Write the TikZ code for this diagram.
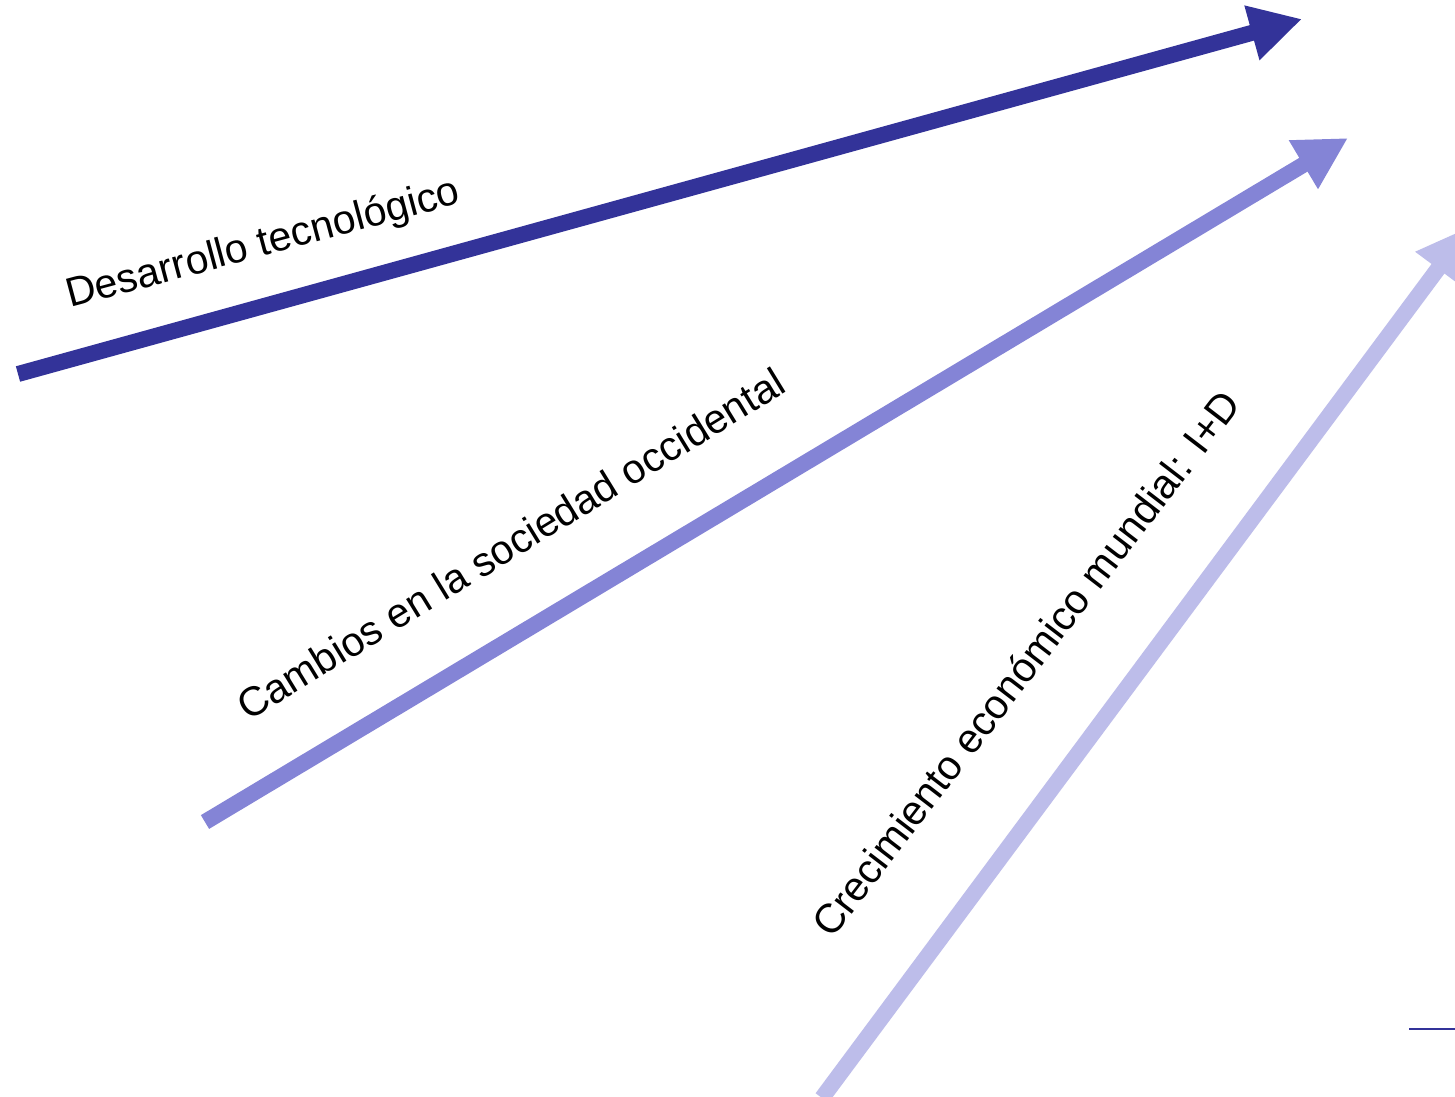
\documentclass[tikz,border=0pt]{standalone}
\usepackage{fontspec}
\setmainfont{Liberation Sans}
\usetikzlibrary{arrows.meta}
\definecolor{cdark}{RGB}{51,51,153}
\definecolor{cmid}{RGB}{132,132,214}
\definecolor{clight}{RGB}{189,189,234}
\tikzset{
  bigarrow/.style={line width=16pt, -{Triangle[length=52pt,width=53pt]}},
  lbl/.style={anchor=base west, inner sep=0pt, font=\fontsize{41pt}{41pt}\selectfont, text=black}
}
\begin{document}
\begin{tikzpicture}[x=1pt,y=-1pt]
\useasboundingbox (0,0) rectangle (1455,1096);
\clip (0,0) rectangle (1455,1096);
\fill[white] (0,0) rectangle (1455,1096);
\coordinate (s1) at (18,374);
\coordinate (t1) at (1302,19);
\coordinate (s2) at (205,822);
\coordinate (t2) at (1348,138);
\coordinate (s3) at (822,1098);
\coordinate (t3) at (1469,227);
\coordinate (m1) at (1409,1029);
\coordinate (m2) at (1460,1029);
\draw[bigarrow, cdark] (s1) -- (t1);
\draw[bigarrow, cmid] (s2) -- (t2);
\draw[bigarrow, clight] (s3) -- (t3);
\draw[cdark, line width=2pt] (m1) -- (m2);
\node[lbl, rotate=15.0] (l1) at (70,308) {Desarrollo tecnológico};
\node[lbl, rotate=31.5] (l2) at (248,722) {Cambios en la sociedad occidental};
\node[lbl, rotate=52.5] (l3) at (832,940) {Crecimiento económico mundial: I+D};
\end{tikzpicture}
\end{document}
